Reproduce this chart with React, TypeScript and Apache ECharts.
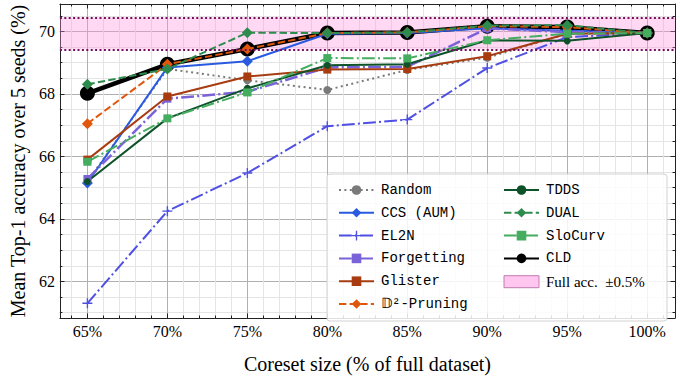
import React, { useEffect, useRef } from "react";
import * as echarts from "echarts";

// ---------- data ----------
const coresetSizes = [65, 70, 75, 80, 85, 90, 95, 100];
const randomAcc = [65.2, 68.8, 68.44, 68.13, 68.77, 69.16, 69.93, 69.95];
const ccsAcc = [65.15, 68.85, 69.05, 69.93, 69.95, 70.1, 70.02, 69.95];
const el2nAcc = [61.3, 64.25, 65.47, 66.97, 67.18, 68.83, 69.82, 69.95];
const forgettingAcc = [65.28, 67.85, 68.07, 68.85, 68.87, 70.1, 69.98, 69.95];
const glisterAcc = [65.9, 67.92, 68.56, 68.78, 68.8, 69.21, 69.93, 69.95];
const d2Acc = [67.05, 68.95, 69.44, 69.95, 69.97, 70.17, 70.14, 69.95];
const tddsAcc = [65.2, 67.22, 68.18, 68.92, 68.95, 69.72, 69.7, 69.95];
const dualAcc = [68.31, 68.8, 69.96, 69.95, 69.97, 70.19, 70.2, 69.95];
const slocurvAcc = [65.83, 67.22, 68.05, 69.15, 69.14, 69.72, 69.93, 69.95];
const cldAcc = [68.02, 68.95, 69.44, 69.95, 69.97, 70.17, 70.14, 69.95];
const fullAccLow = 69.43;
const fullAccHigh = 70.43;

const xMajorTicks = [65, 70, 75, 80, 85, 90, 95, 100];
const xMinorTicks = [64, 66, 67, 68, 69, 71, 72, 73, 74, 76, 77, 78, 79, 81, 82, 83, 84, 86, 87, 88, 89, 91, 92, 93, 94, 96, 97, 98, 99, 101];
const yMajorTicks = [62, 64, 66, 68, 70];
const yMinorTicks = [61, 61.5, 62.5, 63, 63.5, 64.5, 65, 65.5, 66.5, 67, 67.5, 68.5, 69, 69.5, 70.5];

const legendCol1 = ["Random", "CCS (AUM)", "EL2N", "Forgetting", "Glister", "𝔻²-Pruning"];
const legendCol2 = ["TDDS", "DUAL", "SloCurv", "CLD"];
const bandName = "Full acc.  ±0.5%";

const SERIF = "'Liberation Serif', 'DejaVu Serif', serif";
const MONO = "'Liberation Mono', 'DejaVu Sans Mono', monospace";

const PLUS =
  "path://M4.3,0 L5.7,0 L5.7,4.3 L10,4.3 L10,5.7 L5.7,5.7 L5.7,10 L4.3,10 L4.3,5.7 L0,5.7 L0,4.3 L4.3,4.3 Z";

function mkSeries(
  name: string,
  values: number[],
  color: string,
  lineType: any,
  width: number,
  symbol: string,
  symbolSize: number,
  z = 3
) {
  return {
    type: "line",
    name,
    xAxisIndex: 0,
    yAxisIndex: 0,
    data: coresetSizes.map((x, i) => [x, values[i]]),
    symbol,
    symbolSize,
    showSymbol: true,
    z,
    lineStyle: { color, width, type: lineType, cap: "butt" },
    itemStyle: { color, borderWidth: 0 },
    emphasis: { disabled: true },
  };
}

const DASHED = [7.4, 3.2];
const DASHDOT = [12.8, 3.2, 2, 3.2];
const DOTTED = [2, 3.4];

function buildOption(): any {
  const axisLineStyle = { color: "#222", width: 1 };
  const baseX = { type: "value", min: 63.28, max: 101.74, gridIndex: 0 };
  const baseY = { type: "value", min: 60.83, max: 70.88, gridIndex: 0 };
  const legendText = { fontFamily: MONO, fontSize: 14, color: "#000", lineHeight: 12, padding: [0, 0, 0, 2] };
  return {
    animation: false,
    backgroundColor: "#ffffff",
    grid: { left: 49, right: 5, top: 4, bottom: 50, containLabel: false },
    xAxis: [
      {
        ...baseX,
        position: "bottom",
        axisLine: { show: true, onZero: false, lineStyle: axisLineStyle },
        axisTick: { show: true, inside: true, length: 4.5, customValues: xMajorTicks, lineStyle: { color: "#222" } },
        axisLabel: {
          show: true,
          customValues: xMajorTicks,
          formatter: "{value}%",
          margin: 5,
          fontFamily: SERIF,
          fontSize: 16,
          color: "#000",
        },
        splitLine: { show: true, lineStyle: { color: "#b0b0b0", width: 1 } },
        name: "Coreset size (% of full dataset)",
        nameLocation: "middle",
        nameGap: 36,
        nameTextStyle: { fontFamily: SERIF, fontSize: 20, color: "#000" },
      },
      {
        ...baseX,
        position: "bottom",
        axisLine: { show: false, onZero: false },
        axisTick: { show: true, inside: true, length: 2.5, customValues: xMinorTicks, lineStyle: { color: "#222" } },
        axisLabel: { show: false },
        splitLine: { show: true, lineStyle: { color: "#e4e4e4", width: 1 } },
      },
      {
        ...baseX,
        position: "top",
        axisLine: { show: true, onZero: false, lineStyle: axisLineStyle },
        axisTick: { show: true, inside: true, length: 4.5, customValues: xMajorTicks, lineStyle: { color: "#222" } },
        axisLabel: { show: false },
        splitLine: { show: false },
      },
      {
        ...baseX,
        position: "top",
        axisLine: { show: false, onZero: false },
        axisTick: { show: true, inside: true, length: 2.5, customValues: xMinorTicks, lineStyle: { color: "#222" } },
        axisLabel: { show: false },
        splitLine: { show: false },
      },
    ],
    yAxis: [
      {
        ...baseY,
        position: "left",
        axisLine: { show: true, onZero: false, lineStyle: axisLineStyle },
        axisTick: { show: true, inside: true, length: 4.5, customValues: yMajorTicks, lineStyle: { color: "#222" } },
        axisLabel: {
          show: true,
          customValues: yMajorTicks,
          margin: 5,
          fontFamily: SERIF,
          fontSize: 16,
          color: "#000",
        },
        splitLine: { show: true, lineStyle: { color: "#b0b0b0", width: 1 } },
        name: "Mean Top-1 accuracy over 5 seeds (%)",
        nameLocation: "middle",
        nameGap: 31,
        nameTextStyle: { fontFamily: SERIF, fontSize: 20, color: "#000" },
      },
      {
        ...baseY,
        position: "left",
        axisLine: { show: false, onZero: false },
        axisTick: { show: true, inside: true, length: 2.5, customValues: yMinorTicks, lineStyle: { color: "#222" } },
        axisLabel: { show: false },
        splitLine: { show: true, lineStyle: { color: "#e4e4e4", width: 1 } },
      },
      {
        ...baseY,
        position: "right",
        axisLine: { show: true, onZero: false, lineStyle: axisLineStyle },
        axisTick: { show: true, inside: true, length: 4.5, customValues: yMajorTicks, lineStyle: { color: "#222" } },
        axisLabel: { show: false },
        splitLine: { show: false },
      },
      {
        ...baseY,
        position: "right",
        axisLine: { show: false, onZero: false },
        axisTick: { show: true, inside: true, length: 2.5, customValues: yMinorTicks, lineStyle: { color: "#222" } },
        axisLabel: { show: false },
        splitLine: { show: false },
      },
    ],
    legend: [
      {
        orient: "vertical",
        left: 333,
        top: 178,
        itemWidth: 35,
        itemHeight: 12,
        itemGap: 8.8,
        selectedMode: false,
        z: 60,
        textStyle: legendText,
        data: legendCol1,
      },
      {
        orient: "vertical",
        left: 498,
        top: 178,
        itemWidth: 35,
        itemHeight: 12,
        itemGap: 8.8,
        selectedMode: false,
        z: 60,
        textStyle: legendText,
        data: [
          ...legendCol2,
          {
            name: bandName,
            icon: "rect",
            itemStyle: { color: "#ffc6ef", borderColor: "#c27cb2", borderWidth: 1 },
            textStyle: { fontFamily: SERIF, fontSize: 15, color: "#000" },
          },
        ],
      },
    ],
    graphic: [
      {
        type: "rect",
        z: 50,
        shape: { x: 327, y: 174, width: 340, height: 147, r: 3 },
        style: { fill: "rgba(255,255,255,0.85)", stroke: "#d2d2d2", lineWidth: 1 },
        silent: true,
      },
    ],
    series: [
      {
        type: "line",
        name: bandName,
        xAxisIndex: 0,
        yAxisIndex: 0,
        data: [],
        z: 1,
        itemStyle: { color: "#ffc6ef" },
        markArea: {
          silent: true,
          itemStyle: { color: "rgba(255,150,225,0.36)" },
          data: [[{ yAxis: fullAccLow }, { yAxis: fullAccHigh }]],
        },
        markLine: {
          silent: true,
          symbol: "none",
          label: { show: false },
          lineStyle: { color: "#7a0a5c", width: 2, type: [2, 2.4] },
          data: [{ yAxis: fullAccLow }, { yAxis: fullAccHigh }],
        },
      },
      mkSeries("CLD", cldAcc, "#000000", "solid", 4.5, "circle", 15, 2),
      mkSeries("Random", randomAcc, "#7a7a7a", DOTTED, 2, "circle", 8),
      mkSeries("CCS (AUM)", ccsAcc, "#2a5ae0", "solid", 2, "diamond", 11),
      mkSeries("EL2N", el2nAcc, "#4f4fe4", DASHDOT, 2, PLUS, 10),
      mkSeries("Forgetting", forgettingAcc, "#7a62d8", DASHDOT, 2.5, "rect", 8),
      mkSeries("Glister", glisterAcc, "#a83c10", "solid", 2, "rect", 8),
      mkSeries("𝔻²-Pruning", d2Acc, "#e0570c", DASHED, 2, "diamond", 11),
      mkSeries("TDDS", tddsAcc, "#0d5228", "solid", 2, "circle", 7),
      mkSeries("DUAL", dualAcc, "#2e8b4e", DASHED, 2, "diamond", 11),
      mkSeries("SloCurv", slocurvAcc, "#45ad5f", DASHDOT, 2, "rect", 8),
    ],
  };
}

export default function App() {
  const ref = useRef<HTMLDivElement>(null);
  useEffect(() => {
    if (!ref.current) return;
    const chart = echarts.init(ref.current, null, { renderer: "svg" });
    chart.setOption(buildOption());
    return () => chart.dispose();
  }, []);
  return (
    <div
      ref={ref}
      style={{ position: "fixed", left: 0, top: 0, width: 680, height: 379, background: "#fff" }}
    />
  );
}
